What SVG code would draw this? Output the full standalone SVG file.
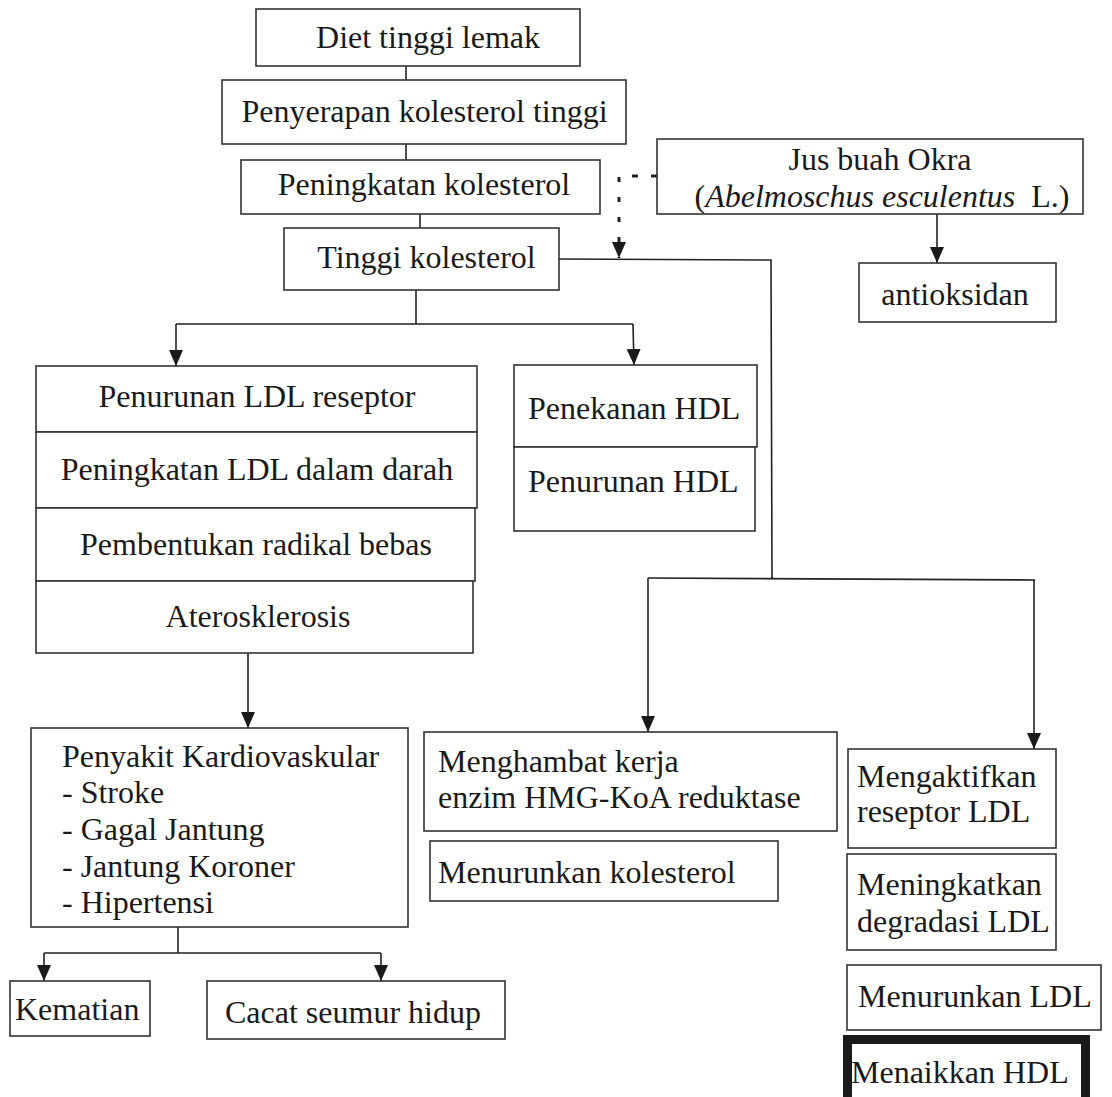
<svg xmlns="http://www.w3.org/2000/svg" width="1112" height="1097" viewBox="0 0 1112 1097">
<defs>
<style>
.box{fill:#fff;stroke:#333;stroke-width:1.6}
.thick{fill:#fff;stroke:#1a1a1a;stroke-width:9}
.t{font-family:"Liberation Serif","Times New Roman",serif;font-size:32px;fill:#1a1a1a}
.c{text-anchor:middle}
.ln{fill:none;stroke:#222;stroke-width:1.6}
.dot{fill:none;stroke:#222;stroke-width:3}
</style>
<marker id="ah" markerUnits="userSpaceOnUse" viewBox="0 0 16 14" refX="16" refY="7" markerWidth="16" markerHeight="14" orient="auto">
<path d="M0,0 L16,7 L0,14 z" fill="#1a1a1a"/>
</marker>
</defs>
<rect width="1112" height="1097" fill="#fff"/>
<g id="connectors">
<path class="ln" d="M406,66 V80"/>
<path class="ln" d="M406,144 V160"/>
<path class="ln" d="M420,214 V228"/>
<path class="ln" d="M416,290 V324 M176,324 H633"/>
<path class="ln" d="M176,324 V366" marker-end="url(#ah)"/>
<path class="ln" d="M633,324 L634,365" marker-end="url(#ah)"/>
<path class="ln" d="M559,259 L771,260 L772,578 M648,578 L1035,580"/>
<path class="ln" d="M648,578 V732" marker-end="url(#ah)"/>
<path class="ln" d="M1034,580 V749" marker-end="url(#ah)"/>
<path class="dot" d="M657,176 H619" stroke-dasharray="6 13"/>
<path class="dot" d="M619,177 V258" stroke-dasharray="5 15" marker-end="url(#ah)"/>
<path class="ln" d="M937,214 V263" marker-end="url(#ah)"/>
<path class="ln" d="M248,653 V728" marker-end="url(#ah)"/>
<path class="ln" d="M178,927 V953 M44,953 H381"/>
<path class="ln" d="M44,953 V981" marker-end="url(#ah)"/>
<path class="ln" d="M381,953 V981" marker-end="url(#ah)"/>
</g>
<g id="diet"><rect class="box" x="256" y="9" width="324" height="57"/><text class="t c" x="428" y="48">Diet tinggi lemak</text></g>
<g id="penyerapan"><rect class="box" x="222" y="80" width="404" height="64"/><text class="t c" x="424.5" y="122">Penyerapan kolesterol tinggi</text></g>
<g id="peningkatan"><rect class="box" x="241" y="160" width="359" height="54"/><text class="t c" x="424" y="195">Peningkatan kolesterol</text></g>
<g id="tinggi"><rect class="box" x="284" y="228" width="275" height="62"/><text class="t c" x="426.5" y="268">Tinggi kolesterol</text></g>
<g id="jus"><rect class="box" x="657" y="139" width="426" height="75"/><text class="t c" x="880" y="170">Jus buah Okra</text><text class="t c" x="882" y="207">(<tspan font-style="italic">Abelmoschus esculentus</tspan><tspan dx="8"> L.)</tspan></text></g>
<g id="antioksidan"><rect class="box" x="859" y="263" width="197" height="59"/><text class="t c" x="955" y="305">antioksidan</text></g>
<g id="ldl-reseptor"><rect class="box" x="36" y="366" width="441" height="66"/><text class="t c" x="257" y="407">Penurunan LDL reseptor</text></g>
<g id="ldl-darah"><rect class="box" x="36" y="432" width="441" height="76"/><text class="t c" x="257" y="480">Peningkatan LDL dalam darah</text></g>
<g id="radikal"><rect class="box" x="36" y="508" width="439" height="73"/><text class="t c" x="256" y="555">Pembentukan radikal bebas</text></g>
<g id="ateros"><rect class="box" x="36" y="581" width="437" height="72"/><text class="t c" x="258" y="627">Aterosklerosis</text></g>
<g id="penekanan"><rect class="box" x="514" y="365" width="243" height="82"/><text class="t" x="528" y="419">Penekanan HDL</text></g>
<g id="penurunan-hdl"><rect class="box" x="514" y="447" width="241" height="84"/><text class="t" x="528" y="492">Penurunan HDL</text></g>
<g id="penyakit"><rect class="box" x="31" y="728" width="377" height="199"/><text class="t" x="62" y="767">Penyakit Kardiovaskular</text><text class="t" x="62" y="803">- Stroke</text><text class="t" x="62" y="840">- Gagal Jantung</text><text class="t" x="62" y="877">- Jantung Koroner</text><text class="t" x="62" y="913">- Hipertensi</text></g>
<g id="kematian"><rect class="box" x="10" y="981" width="140" height="55"/><text class="t" x="15" y="1020">Kematian</text></g>
<g id="cacat"><rect class="box" x="207" y="981" width="298" height="58"/><text class="t" x="225" y="1023">Cacat seumur hidup</text></g>
<g id="menghambat"><rect class="box" x="424" y="732" width="413" height="99"/><text class="t" x="438" y="772">Menghambat kerja</text><text class="t" x="438" y="808">enzim HMG-KoA reduktase</text></g>
<g id="menurunkan-kolesterol"><rect class="box" x="430" y="841" width="348" height="60"/><text class="t" x="438" y="883">Menurunkan kolesterol</text></g>
<g id="mengaktifkan"><rect class="box" x="848" y="749" width="208" height="99"/><text class="t" x="857" y="787">Mengaktifkan</text><text class="t" x="857" y="822">reseptor LDL</text></g>
<g id="meningkatkan"><rect class="box" x="847" y="854" width="209" height="96"/><text class="t" x="857" y="895">Meningkatkan</text><text class="t" x="857" y="932">degradasi LDL</text></g>
<g id="menurunkan-ldl"><rect class="box" x="847" y="965" width="254" height="65"/><text class="t" x="858" y="1007">Menurunkan LDL</text></g>
<g id="menaikkan-hdl"><rect class="thick" x="847.5" y="1039.5" width="238" height="70"/><text class="t" x="851" y="1083" font-size="33.5">Menaikkan HDL</text></g>
</svg>
